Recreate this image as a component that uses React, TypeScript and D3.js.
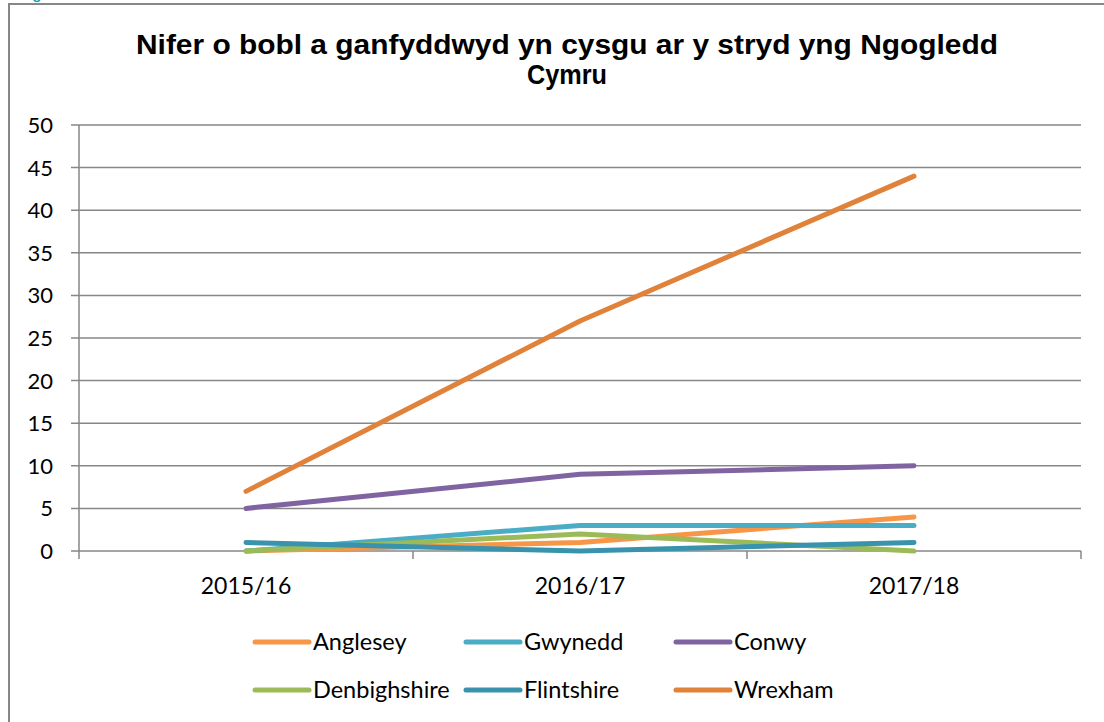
import React from "react";
import * as d3 from "d3";

const categories = ["2015/16", "2016/17", "2017/18"];
const seriesNames = ["Anglesey", "Gwynedd", "Conwy", "Denbighshire", "Flintshire", "Wrexham"];
const anglesey = [0, 1, 4];
const gwynedd = [0, 3, 3];
const conwy = [5, 9, 10];
const denbighshire = [0, 2, 0];
const flintshire = [1, 0, 1];
const wrexham = [7, 27, 44];
const yTicks = [0, 5, 10, 15, 20, 25, 30, 35, 40, 45, 50];
const titleLines = ["Nifer o bobl a ganfyddwyd yn cysgu ar y stryd yng Ngogledd", "Cymru"];

const colors = ["#F79646", "#4BACC6", "#8064A2", "#9BBB59", "#3A93AC", "#E0823A"];
const seriesValues = [anglesey, gwynedd, conwy, denbighshire, flintshire, wrexham];

export default function App() {
  const W = 1104, H = 722;
  const left = 79, right = 1081, top = 125, bottom = 551;
  const x = d3.scaleBand<string>().domain(categories).range([left, right]);
  const y = d3.scaleLinear().domain([0, 50]).range([bottom, top]);
  const line = d3.line<number>()
    .x((_, i) => (x(categories[i]) as number) + x.bandwidth() / 2)
    .y((d) => y(d));
  const grid = "#878787";
  const font = "Lato, 'Liberation Sans', sans-serif";
  const legendCols = [255, 466, 676];
  const legendRows = [642, 690];
  const titleLengths = [862, 80];
  return (
    <svg width={W} height={H} style={{ position: "absolute", left: 0, top: 0, background: "#fff" }}>
      <rect x={0} y={0} width={W} height={H} fill="#fff" />
      <text x={14} y={-1} fill="#17A2B8" fontFamily="'Liberation Sans', Arial, sans-serif" fontWeight="bold" fontSize={15}>Ffigur</text>
      <rect x={9} y={4} width={W + 20} height={H + 20} fill="none" stroke={grid} strokeWidth={2} />
      {titleLines.map((t, i) => (
        <text key={i} x={567} y={54 + i * 30} textAnchor="middle" fontFamily="'Liberation Sans', Arial, sans-serif" fontWeight="bold" fontSize={27} fill="#000"
          textLength={titleLengths[i]} lengthAdjust="spacingAndGlyphs">{t}</text>
      ))}
      {yTicks.map((t) => (
        <g key={t}>
          <line x1={71} x2={right} y1={y(t)} y2={y(t)} stroke={grid} strokeWidth={1.5} />
          <text x={53} y={y(t) + 8} textAnchor="end" fontFamily={font} fontSize={22} fill="#000">{t}</text>
        </g>
      ))}
      <line x1={left} x2={left} y1={top} y2={bottom} stroke={grid} strokeWidth={1.5} />
      {[...categories.map((c) => x(c) as number), right].map((px, i) => (
        <line key={i} x1={px} x2={px} y1={bottom} y2={bottom + 8} stroke={grid} strokeWidth={1.5} />
      ))}
      {categories.map((c) => (
        <text key={c} x={(x(c) as number) + x.bandwidth() / 2} y={594} textAnchor="middle" fontFamily={font} fontSize={23} fill="#000">{c}</text>
      ))}
      {seriesValues.map((vals, i) => (
        <path key={i} d={line(vals) as string} fill="none" stroke={colors[i]} strokeWidth={5} strokeLinecap="round" strokeLinejoin="round" />
      ))}
      {seriesNames.map((n, i) => {
        const cx = legendCols[i % 3];
        const cy = legendRows[Math.floor(i / 3)];
        return (
          <g key={n}>
            <line x1={cx} x2={cx + 54} y1={cy} y2={cy} stroke={colors[i]} strokeWidth={5} strokeLinecap="round" />
            <text x={cx + 58} y={cy + 8} fontFamily={font} fontSize={23.5} fill="#000">{n}</text>
          </g>
        );
      })}
    </svg>
  );
}
